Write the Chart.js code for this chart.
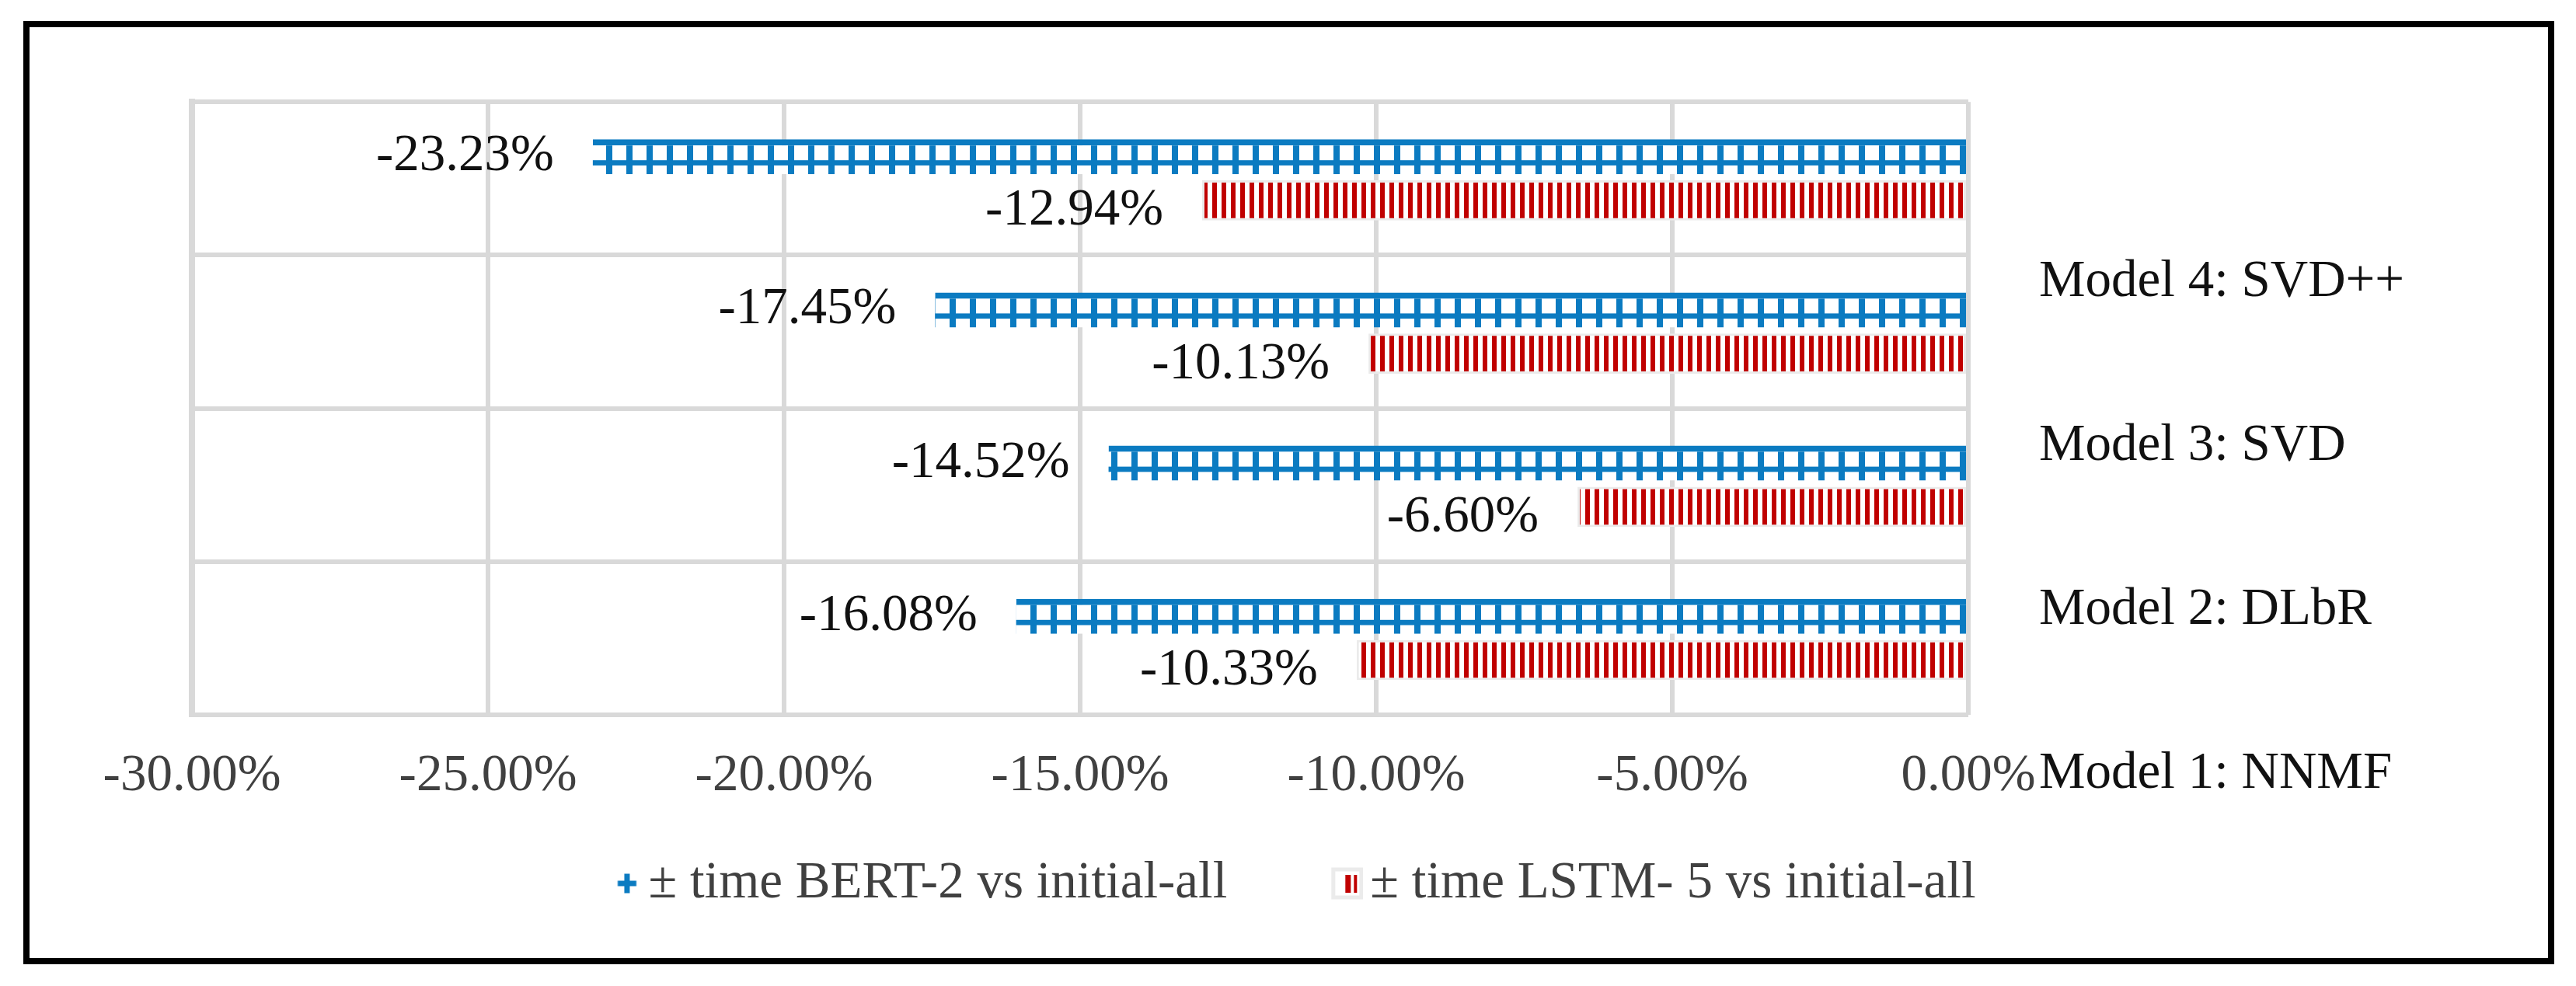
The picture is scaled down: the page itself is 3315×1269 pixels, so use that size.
<!DOCTYPE html>
<html>
<head>
<meta charset="utf-8">
<script src="https://cdn.jsdelivr.net/npm/chart.js@4.4.1/dist/chart.umd.min.js"></script>
<style>
  html, body { margin: 0; padding: 0; background: #fff; overflow: hidden; }
  #wrap { position: relative; width: 3315px; height: 1269px; }
  #c { position: absolute; left: 0; top: 0; }
  #frame {
    position: absolute; left: 30px; top: 27px; width: 3257px; height: 1214px;
    box-sizing: border-box; border: 8px solid #000; pointer-events: none;
  }
</style>
</head>
<body>
<div id="wrap">
  <canvas id="c" width="3315" height="1269"></canvas>
  <div id="frame"></div>
</div>
<script>
// ---- data (top group first) ----
const categories = ["Model 4: SVD++", "Model 3: SVD", "Model 2: DLbR", "Model 1: NNMF"];
const bertValues = [-23.23, -17.45, -14.52, -16.08];
const lstmValues = [-12.94, -10.13, -6.60, -10.33];
const seriesNames = ["± time BERT-2 vs initial-all", "± time LSTM- 5 vs initial-all"];
const xTicks = [-30, -25, -20, -15, -10, -5, 0];

const colors = {
  blue: "#0B7BC1",
  red: "#C00000",
  grid: "#D9D9D9",
  redEdge: "#EBEBEB",
  axisText: "#404040",
  text: "#111111"
};

const FONT = "'Liberation Serif', 'Times New Roman', serif";
const FONT_SIZE = 67;
Chart.defaults.font.family = FONT;
Chart.defaults.font.size = FONT_SIZE;

const canvas = document.getElementById("c");
const ctx2d = canvas.getContext("2d");

/* ===============================
   PATTERNS / LEGEND ICONS
================================ */

function stripePattern(period, stripe, color) {
  const c = document.createElement("canvas");
  c.width = period;
  c.height = 4;
  const g = c.getContext("2d");
  g.fillStyle = "#fff";
  g.fillRect(0, 0, period, 4);
  g.fillStyle = color;
  g.fillRect(0, 0, stripe, 4);
  return ctx2d.createPattern(c, "repeat");
}

// icons are drawn right of the image centre so they sit close to the legend text
function bertIcon() {
  const c = document.createElement("canvas");
  c.width = 140; c.height = 26;
  const g = c.getContext("2d");
  const cx = 121.5;
  g.fillStyle = colors.blue;
  g.fillRect(cx - 3.5, 0.5, 7, 25);
  g.fillRect(cx - 12, 9.5, 24, 7);
  return c;
}

function lstmIcon() {
  const c = document.createElement("canvas");
  c.width = 140; c.height = 42;
  const g = c.getContext("2d");
  const left = 119.5 - 20.5;
  g.fillStyle = colors.redEdge;
  g.fillRect(left, 0.5, 41, 41);
  g.fillStyle = "#fff";
  g.fillRect(left + 5, 5.5, 31, 31);
  g.fillStyle = colors.red;
  g.fillRect(left + 18, 10, 7, 23);
  g.fillRect(left + 29, 10, 4, 23);
  return c;
}

/* ===============================
   BAR EXTRAS + VALUE LABELS
================================ */

const barExtras = {
  id: "barExtras",
  afterDatasetsDraw(chart) {
    const ctx = chart.ctx;
    ctx.save();

    // middle rail of the blue "ladder" bars
    chart.getDatasetMeta(0).data.forEach(bar => {
      const { x, y, base, height } = bar.getProps(["x", "y", "base", "height"], true);
      ctx.fillStyle = colors.blue;
      ctx.fillRect(Math.min(x, base), y - height / 2 + height * 0.6, Math.abs(x - base), height * 0.15);
    });

    ctx.font = `${FONT_SIZE}px ${FONT}`;
    ctx.fillStyle = colors.text;
    ctx.textAlign = "right";
    ctx.textBaseline = "middle";
    chart.data.datasets.forEach((ds, di) => {
      chart.getDatasetMeta(di).data.forEach((bar, i) => {
        const { x, y, base } = bar.getProps(["x", "y", "base"], true);
        const label = ds.data[i].toFixed(2) + "%";
        ctx.fillText(label, Math.min(x, base) - 50, y + (di === 1 ? 14 : 0));
      });
    });
    ctx.restore();
  }
};

/* ===============================
   CHART
================================ */

new Chart(canvas, {
  type: "bar",
  data: {
    labels: categories,
    datasets: [
      {
        label: seriesNames[0],
        data: bertValues,
        backgroundColor: stripePattern(26, 8, colors.blue),
        borderColor: colors.blue,
        borderWidth: { top: 8, right: 0, bottom: 0, left: 0 },
        borderSkipped: false,
        pointStyle: bertIcon(),
        categoryPercentage: 0.57,
        barPercentage: 0.8
      },
      {
        label: seriesNames[1],
        data: lstmValues,
        backgroundColor: stripePattern(12, 6, colors.red),
        borderColor: colors.redEdge,
        borderWidth: 3,
        borderSkipped: false,
        pointStyle: lstmIcon(),
        categoryPercentage: 0.57,
        barPercentage: 0.92
      }
    ]
  },
  options: {
    indexAxis: "y",
    responsive: false,
    devicePixelRatio: 1,
    animation: false,
    layout: {
      padding: { left: 0, right: 62.5, top: 127, bottom: 88.5 }
    },
    plugins: {
      legend: {
        position: "bottom",
        labels: {
          usePointStyle: true,
          pointStyleWidth: 91,
          padding: 59.5,
          color: colors.axisText,
          font: { size: FONT_SIZE }
        }
      },
      tooltip: { enabled: false }
    },
    scales: {
      x: {
        type: "linear",
        min: xTicks[0],
        max: xTicks[xTicks.length - 1],
        afterBuildTicks: axis => { axis.ticks = xTicks.map(v => ({ value: v })); },
        afterFit: axis => { axis.height = 124; },
        grid: { color: colors.grid, lineWidth: 6, drawTicks: false },
        border: { display: false },
        ticks: {
          color: colors.axisText,
          padding: 39,
          maxRotation: 0,
          autoSkip: false,
          callback: v => v.toFixed(2) + "%"
        }
      },
      y: {
        type: "category",
        position: "left",
        offset: true,
        afterFit: axis => { axis.width = 247; },
        grid: { color: colors.grid, lineWidth: 6, offset: true, drawTicks: false },
        border: { color: colors.grid, width: 8 },
        ticks: { display: false }
      },
      // category names sit on their own scale on the right, as in the original
      names: {
        type: "linear",
        position: "right",
        reverse: true,
        offset: false,
        bounds: "data",
        min: -0.0975,
        max: 3.638,
        afterBuildTicks: axis => { axis.ticks = categories.map((c, i) => ({ value: i + 1 })); },
        afterFit: axis => { axis.width = 719.5; },
        grid: { display: false, drawTicks: false },
        border: { display: false },
        ticks: {
          color: colors.text,
          padding: 91,
          autoSkip: false,
          callback: (v, i) => categories[i]
        }
      }
    }
  },
  plugins: [barExtras]
});
</script>
</body>
</html>
